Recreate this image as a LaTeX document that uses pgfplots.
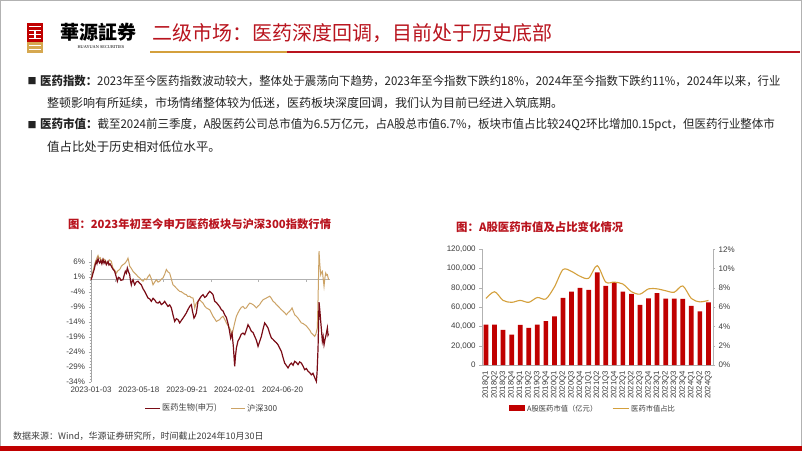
\documentclass[border=0pt]{standalone}
\usepackage{pgfplots}
\pgfplotsset{compat=1.18}
\usepackage{fontspec}
\setmainfont{Liberation Sans}
\newfontfamily\cjk{Noto Sans CJK SC}
\newfontfamily\lserif{Liberation Serif}
\definecolor{titlered}{RGB}{185,20,30}
\definecolor{gold}{RGB}{214,168,80}
\definecolor{maroonc}{RGB}{122,12,22}
\definecolor{tanc}{RGB}{204,163,102}
\definecolor{barred}{RGB}{192,0,0}
\definecolor{goldline}{RGB}{212,160,60}
\definecolor{txt}{RGB}{35,35,35}
\definecolor{ticktxt}{RGB}{60,60,60}
\begin{document}
\begin{tikzpicture}[x=1pt,y=1pt]
\useasboundingbox (0,0) rectangle (802,451);
\fill[white] (0,0) rectangle (802,451);
\draw[gray!60, line width=0.8pt] (0.4,0.4) rectangle (801.6,450.6);
% bottom band
\fill[barred] (0,0) rectangle (802,5);
% logo
\fill[barred] (27,409) rectangle (43,428);
\fill[white] (29,424) rectangle (41,425.2);
\fill[white] (29,420) rectangle (41,421.2);
\fill[white] (29,416) rectangle (41,417.2);
\fill[white] (29,412) rectangle (41,413.2);
\fill[white] (34.4,412) rectangle (35.6,421);
\fill[gold] (27,398) rectangle (43,409);
\fill[white] (29,401) rectangle (41,402.2);
\fill[white] (29,405) rectangle (41,406.2);
\node[anchor=center, inner sep=0] at (98,419) {\cjk\bfseries\fontsize{19}{21}\selectfont 華源証券};
\node[anchor=center, inner sep=0] at (101,403.5) {\lserif\fontsize{4.3}{5}\selectfont HUAYUAN SECURITIES};
% title
\node[anchor=west, inner sep=0, text=titlered] at (152,418) {\cjk\fontsize{20}{22}\selectfont 二级市场：医药深度回调，目前处于历史底部};
\draw[goldline, line width=2pt] (150,399) -- (287,399);
\draw[titlered, line width=2pt] (287,399) -- (800,399);
% body text
\node[anchor=center, inner sep=0, text=txt] at (32,370) {\cjk\fontsize{9}{10}\selectfont ■};
\node[anchor=west, inner sep=0, text=txt] at (40,370) {\scalebox{0.95}[1]{\cjk\fontsize{12}{14}\selectfont {\bfseries 医药指数：}2023年至今医药指数波动较大，整体处于震荡向下趋势，2023年至今指数下跌约18\%，2024年至今指数下跌约11\%，2024年以来，行业}};
\node[anchor=west, inner sep=0, text=txt] at (47,348) {\cjk\fontsize{12}{14}\selectfont 整顿影响有所延续，市场情绪整体较为低迷，医药板块深度回调，我们认为目前已经进入筑底期。};
\node[anchor=center, inner sep=0, text=txt] at (32,326) {\cjk\fontsize{9}{10}\selectfont ■};
\node[anchor=west, inner sep=0, text=txt] at (40,326) {\scalebox{0.957}[1]{\cjk\fontsize{12}{14}\selectfont {\bfseries 医药市值：}截至2024前三季度，A股医药公司总市值为6.5万亿元，占A股总市值6.7\%，板块市值占比较24Q2环比增加0.15pct，但医药行业整体市}};
\node[anchor=west, inner sep=0, text=txt] at (47,304) {\cjk\fontsize{12.4}{14}\selectfont 值占比处于历史相对低位水平。};
% chart titles
\node[anchor=west, inner sep=0, text=titlered] at (68,227) {\cjk\bfseries\fontsize{11.3}{13}\selectfont 图：2023年初至今申万医药板块与沪深300指数行情};
\node[anchor=west, inner sep=0, text=titlered] at (456,224) {\cjk\bfseries\fontsize{11.4}{13}\selectfont 图：A股医药市值及占比变化情况};
% footer
\node[anchor=west, inner sep=0, text=ticktxt] at (13,15.3) {\cjk\fontsize{9}{10}\selectfont 数据来源：Wind，华源证券研究所，时间截止2024年10月30日};

% ---------------- line chart ----------------
\begin{axis}[
  at={(91pt,69.3pt)}, anchor=south west, scale only axis,
  width=239.4pt, height=132pt,
  xmin=0, xmax=440, ymin=-34, ymax=10,
  axis lines=left, axis line style={-, draw=gray!70},
  x axis line style={draw=none},
  xtick={0,88,176,264,352},
  xticklabels={2023-01-03,2023-05-18,2023-09-21,2024-02-01,2024-06-20},
  ytick={-34,-29,-24,-19,-14,-9,-4,1,6},
  yticklabels={-34\%,-29\%,-24\%,-19\%,-14\%,-9\%,-4\%,1\%,6\%},
  minor y tick num=4,
  tick align=outside, major tick length=2.5pt, minor tick length=1.5pt,
  x tick style={draw=none}, y tick style={gray!70},
  tick label style={font=\fontsize{8}{9}\selectfont, text=ticktxt},
  xticklabel style={yshift=1pt},
  clip=false,
]
\draw[gray!60, line width=0.6pt] (axis cs:0,0) -- (axis cs:440,0);
\pgfplotsinvokeforeach{44,132,220,308,396}{\draw[gray!60] (axis cs:#1,0) -- (axis cs:#1,-0.7);}
\addplot[tanc, line width=1pt] coordinates {
(0,0) (2,1.5) (3.7,2.8) (6,4.6) (8,6.0) (9.8,6.7) (11.5,7.6) (12.9,8.1) (15,7.0) (17,7.3) (19,6.1) (22,7.0) (25.1,6.7) (28,5.9) (31.3,5.6) (34,6.6) (37.4,6.1) (39,4.8) (40.4,3.9) (43.5,3.2) (46.6,2.2) (49.5,3.0) (52.7,3.4) (55.8,4.5) (58.8,5.0) (62,5.4) (65,6.1) (66.5,6.6) (68,7.2) (69.5,6.0) (71.1,4.5) (74,3.8) (77.2,2.8) (80.3,2.2) (83.3,1.7) (86.4,1.0) (89.5,0.6) (92.5,0.0) (95.6,-0.5) (98.7,0.3) (101.7,0.0) (104.8,1.0) (107.8,1.7) (110.9,0.3) (114,-1.7) (117,-0.8) (120.1,0.0) (123.2,-0.8) (126.2,-0.5) (129.3,0.2) (132.4,0.6) (135.4,1.8) (138.5,3.4) (141.5,2.6) (144.6,2.2) (147.7,0.2) (150.7,-1.7) (153.8,-2.2) (156.9,-2.8) (160,-3.4) (163,-3.9) (166,-4.0) (169.1,-4.4) (172,-4.8) (175.2,-5.0) (178,-5.6) (181.4,-5.5) (184.4,-6.0) (187.5,-6.1) (189,-7.5) (190.6,-9.4) (192,-8.5) (193.6,-7.8) (196.7,-7.2) (199.8,-6.7) (202.8,-7.3) (205.9,-7.8) (209,-8.8) (212,-9.4) (215,-9.7) (218.1,-10.0) (221,-11.0) (224.3,-12.2) (227.3,-13.0) (230.4,-13.9) (233.5,-13.6) (236.5,-13.3) (239.6,-12.6) (242.6,-12.2) (245.7,-13.2) (248.8,-14.4) (251.8,-15.3) (254.9,-16.1) (257,-17.0) (259.2,-18.3) (261.5,-16.5) (264.1,-14.4) (267.2,-12.2) (270.3,-11.0) (273.3,-10.0) (276.4,-9.2) (279.4,-8.9) (282.5,-9.6) (285.5,-9.4) (288.6,-8.5) (291.7,-7.8) (294.7,-8.0) (297.8,-8.3) (300.9,-8.8) (303.9,-9.4) (307,-8.8) (310,-8.3) (313.1,-7.4) (316.2,-6.7) (319.2,-6.4) (322.3,-6.1) (325.4,-5.8) (328.4,-5.5) (331.5,-6.2) (334.6,-7.2) (337.6,-7.6) (340.7,-8.3) (343.8,-8.8) (346.8,-9.4) (349.9,-10.0) (352.9,-10.5) (356,-11.0) (359.1,-11.7) (362.1,-11.0) (365.2,-10.5) (367.5,-10.0) (369.5,-9.4) (372,-10.6) (374.4,-11.7) (377.5,-12.2) (380.5,-12.8) (383.5,-13.6) (386.6,-14.4) (389.7,-14.6) (392.8,-15.0) (395.8,-15.4) (398.9,-16.1) (402,-16.8) (405,-17.8) (408,-18.3) (411.1,-18.9) (413.5,-18.0) (416,-16.1) (417.6,-4.0) (419.1,9.5) (420.6,5.0) (422.2,1.7) (423.7,2.5) (425.2,2.8) (426.7,0.5) (428.3,-2.2) (429.8,0.5) (431.4,2.2) (433,1.5) (434.4,1.7) (435.6,0.8) (436.8,0.0)
};
\addplot[maroonc, line width=1.2pt] coordinates {
(0,0) (2,1.0) (3.7,2.2) (6,3.5) (8,5.2) (9.8,6.1) (11,5.4) (12.9,7.0) (14.5,6.0) (15.9,5.6) (18,6.4) (20,5.3) (22.1,6.7) (24,5.5) (26,6.2) (28.2,5.0) (30,5.6) (31.3,6.1) (33,4.9) (35,5.3) (37.4,4.5) (40,3.6) (43.5,2.8) (46,1.2) (48.4,-0.5) (50.5,0.8) (52.7,0.6) (55,-0.2) (58.8,0.0) (61,1.5) (63.1,2.8) (65,2.2) (66.8,3.9) (69,2.6) (71.1,1.7) (72.5,-0.3) (74.1,-1.7) (75.5,-0.6) (77.2,0.0) (78.8,-1.0) (80.3,-1.7) (83,-0.8) (86.4,-0.5) (89.5,-1.2) (92.5,-1.7) (95.6,-3.0) (98.7,-3.9) (101.7,-5.0) (104.8,-6.1) (107.8,-6.4) (110.9,-7.2) (114,-6.2) (117,-6.7) (120.1,-7.6) (123.2,-7.8) (126.2,-7.3) (129.3,-8.3) (132.4,-7.9) (135.4,-7.2) (138.5,-8.1) (141.5,-8.9) (144.6,-8.4) (147.7,-9.4) (150.7,-11.7) (153.8,-13.9) (156.9,-13.0) (159.9,-13.3) (163,-14.4) (166,-13.6) (169.1,-12.8) (172,-12.0) (175.2,-11.1) (178,-10.0) (181.4,-8.9) (184.4,-8.3) (186.5,-10.5) (189.3,-12.8) (191,-12.3) (193.6,-11.1) (196.7,-7.2) (199.8,-6.3) (202.8,-5.5) (205.9,-5.0) (209,-5.9) (212,-5.5) (215,-4.6) (218.1,-3.9) (221,-4.3) (224.3,-5.0) (227.3,-7.2) (230.4,-7.6) (233.5,-8.3) (236.5,-9.0) (239.6,-10.0) (242.6,-10.4) (245.7,-11.7) (248.8,-12.6) (251.8,-14.6) (254.5,-17.0) (256.7,-19.4) (259.2,-17.8) (261.5,-22.0) (264.1,-28.9) (265.5,-25.5) (267.2,-22.8) (270,-20.5) (273.3,-19.4) (276,-18.2) (279.4,-17.8) (282.5,-18.3) (285.5,-16.8) (288.6,-15.0) (291.7,-16.0) (294.7,-17.2) (297.8,-17.6) (300.9,-18.9) (304,-20.2) (307,-22.2) (310,-20.6) (313.1,-18.9) (316.2,-16.5) (319.2,-14.4) (322.3,-15.2) (325.4,-16.1) (328.4,-17.9) (331.5,-19.4) (334.6,-19.9) (337.6,-20.5) (340.7,-21.0) (343.8,-21.7) (346.8,-22.8) (349.9,-23.9) (353,-26.0) (356,-27.8) (359.1,-28.6) (362.1,-29.4) (365.2,-28.4) (368.3,-27.8) (371.4,-28.5) (374.4,-27.2) (377.5,-27.6) (380.5,-28.3) (383.5,-27.4) (386.6,-27.8) (389.7,-28.8) (392.8,-30.0) (395.8,-29.6) (398.9,-30.5) (402,-31.0) (405,-31.7) (408,-31.2) (411.1,-32.6) (414.2,-33.9) (415.5,-31.0) (417.3,-22.8) (419.1,-7.5) (420.5,-10.0) (422.2,-13.9) (423.7,-17.0) (425.2,-20.5) (426.7,-19.0) (428.3,-21.7) (430,-20.0) (431.4,-18.9) (433,-17.5) (434.4,-16.1) (435.6,-18.5) (436.8,-18.0)
};
\end{axis}
% line chart legend
\draw[maroonc, line width=1.2pt] (145,42.7) -- (160,42.7);
\node[anchor=west, inner sep=0, text=ticktxt] at (162,42.7) {\cjk\fontsize{8.2}{9}\selectfont 医药生物(申万)};
\draw[tanc, line width=1.2pt] (231,42.7) -- (245,42.7);
\node[anchor=west, inner sep=0, text=ticktxt] at (247,42.7) {\cjk\fontsize{8.2}{9}\selectfont 沪深300};

% ---------------- bar chart ----------------
\begin{axis}[
  at={(481.7pt,86pt)}, anchor=south west, scale only axis,
  width=231pt, height=115.7pt,
  xmin=-0.5, xmax=26.5, ymin=0, ymax=120000,
  scaled y ticks=false,
  axis lines=left, axis line style={-, draw=gray!60},
  ytick={0,20000,40000,60000,80000,100000,120000},
  yticklabels={0,{20,000},{40,000},{60,000},{80,000},{100,000},{120,000}},
  xtick={0,...,26},
  xticklabels={2018Q1,2018Q2,2018Q3,2018Q4,2019Q1,2019Q2,2019Q3,2019Q4,2020Q1,2020Q2,2020Q3,2020Q4,2021Q1,2021Q2,2021Q3,2021Q4,2022Q1,2022Q2,2022Q3,2022Q4,2023Q1,2023Q2,2023Q3,2023Q4,2024Q1,2024Q2,2024Q3},
  xticklabel style={rotate=90, anchor=east, font=\fontsize{7.8}{9}\selectfont, text=ticktxt},
  yticklabel style={font=\fontsize{8}{9}\selectfont, text=ticktxt},
  tick align=outside, major tick length=2.5pt,
  x tick style={draw=none}, y tick style={gray!60},
]
\addplot[ybar, bar width=0.55, fill=barred, draw=none] coordinates {
(0,42000) (1,42000) (2,36500) (3,31500) (4,41500) (5,38500) (6,42000) (7,45500) (8,50500) (9,69500) (10,76000) (11,80000) (12,78000) (13,96000) (14,82000) (15,86000) (16,76000) (17,73800) (18,62300) (19,69200) (20,74500) (21,68800) (22,68800) (23,68500) (24,61200) (25,55500) (26,65000)
};
\end{axis}
\begin{axis}[
  at={(481.7pt,86pt)}, anchor=south west, scale only axis,
  width=231pt, height=115.7pt,
  xmin=-0.5, xmax=26.5, ymin=0, ymax=12,
  axis x line=none, axis y line*=right, axis line style={-, draw=gray!60},
  ytick={0,2,4,6,8,10,12},
  yticklabels={0\%,2\%,4\%,6\%,8\%,10\%,12\%},
  yticklabel style={font=\fontsize{8}{9}\selectfont, text=ticktxt},
  tick align=outside, major tick length=2.5pt, y tick style={gray!60},
]
\addplot[goldline, line width=1.1pt, smooth] coordinates {
(0,6.9) (1,7.6) (2,6.7) (3,6.5) (4,6.7) (5,6.5) (6,7.0) (7,6.85) (8,8.1) (9,9.9) (10,9.7) (11,9.2) (12,9.0) (13,10.3) (14,8.6) (15,8.6) (16,8.4) (17,7.6) (18,7.35) (19,7.9) (20,7.9) (21,7.7) (22,7.55) (23,8.2) (24,6.9) (25,6.55) (26,6.7)
};
\end{axis}
% bar chart legend
\fill[barred] (509,40) rectangle (525,46);
\node[anchor=west, inner sep=0, text=ticktxt] at (527,42.6) {\cjk\fontsize{7.3}{8}\selectfont A股医药市值（亿元）};
\draw[goldline, line width=1.1pt] (612.5,42.6) -- (628.5,42.6);
\node[anchor=west, inner sep=0, text=ticktxt] at (631,42.6) {\cjk\fontsize{7.3}{8}\selectfont 医药市值占比};
\end{tikzpicture}
\end{document}
